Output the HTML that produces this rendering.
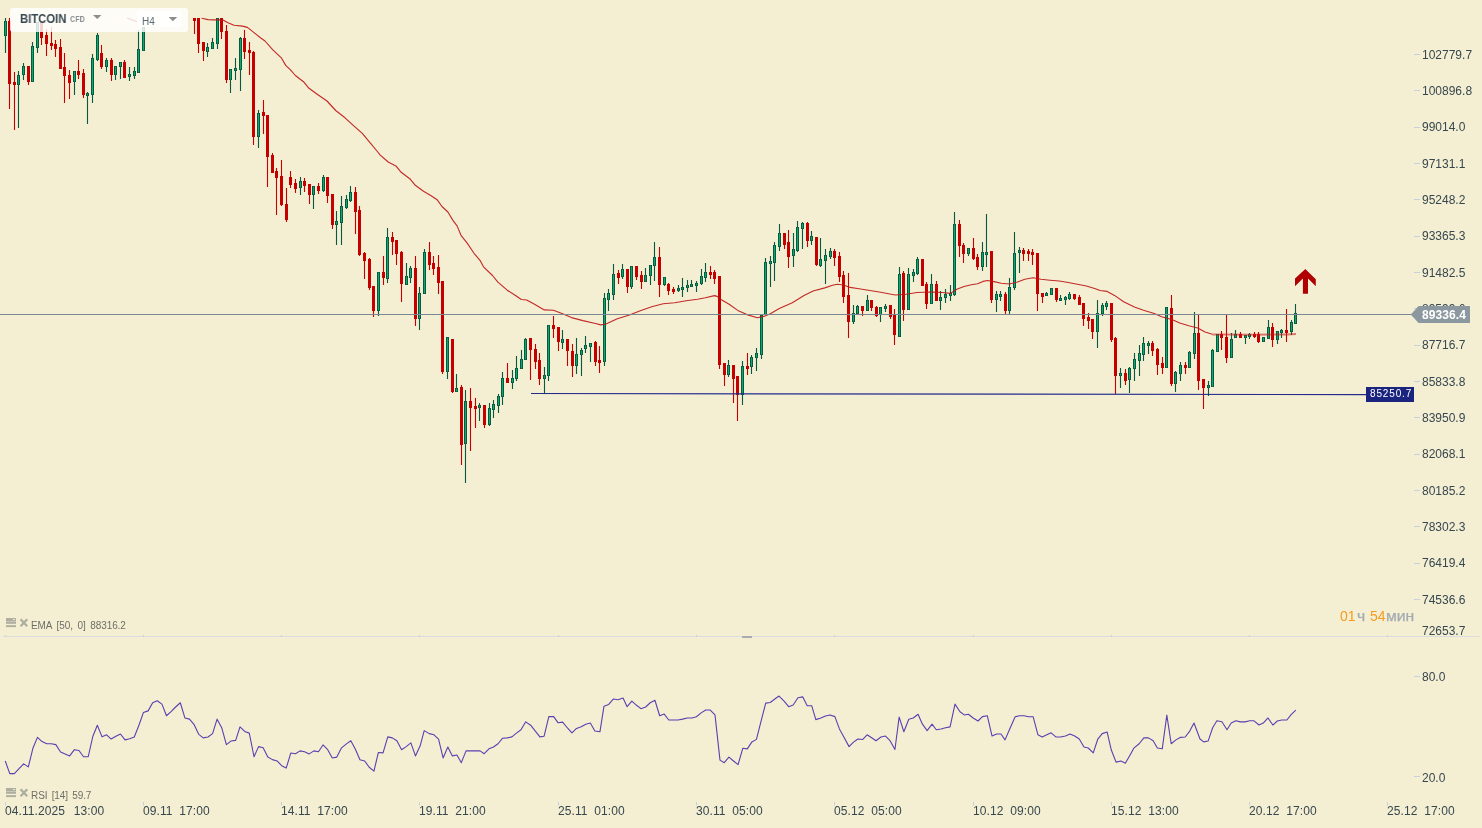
<!DOCTYPE html>
<html><head><meta charset="utf-8"><title>BITCOIN H4</title>
<style>
html,body{margin:0;padding:0;}
body{width:1482px;height:828px;overflow:hidden;background:#f4efd3;font-family:"Liberation Sans",sans-serif;position:relative;}
svg{position:absolute;left:0;top:0;}
.t{position:absolute;white-space:pre;line-height:1;will-change:transform;}
.ax{font-size:12px;color:#37474f;left:1422px;}
.tm{font-size:12px;color:#37474f;top:805px;letter-spacing:0.08px;}
.lg{font-size:10px;color:#6e6e66;left:30.6px;word-spacing:1.9px;letter-spacing:-0.08px;}
</style></head><body>

<svg width="1482" height="828" viewBox="0 0 1482 828">
<path d="M9.5 18V109M14.5 72V130M28.5 66V85M41.5 22V45M46.5 29V56M51.5 27V50M55.5 40V57M60.5 39V69M64.5 53V103M69.5 70V99M78.5 60V79M83.5 69V98M101.5 45V69M111.5 58V81M124.5 60V78M194.5 18V34M198.5 18V53M203.5 42V61M221.5 18V39M226.5 25V83M244.5 30V59M249.5 42V75M253.5 51V145M263.5 100V134M267.5 115V187M272.5 153V173M276.5 168V215M281.5 160V206M286.5 188V222M290.5 171V188M295.5 179V193M304.5 178V192M309.5 184V204M318.5 183V194M327.5 177V203M332.5 194V229M355.5 187V234M359.5 206V256M364.5 252V279M369.5 258V290M373.5 286V317M383.5 256V285M392.5 232V255M396.5 240V265M401.5 251V302M415.5 256V326M429.5 242V270M433.5 256V275M438.5 255V294M442.5 281V374M452.5 339V393M461.5 385V465M470.5 388V451M475.5 398V428M484.5 405V428M507.5 363V383M530.5 338V380M535.5 344V369M539.5 353V385M553.5 316V338M558.5 327V351M567.5 339V366M572.5 344V377M595.5 341V366M599.5 346V373M618.5 270V284M627.5 269V293M636.5 266V280M641.5 271V289M659.5 247V297M668.5 283V295M673.5 287V294M710.5 266V279M714.5 270V284M719.5 276V369M724.5 363V386M733.5 365V403M737.5 376V421M747.5 353V375M784.5 233V249M788.5 230V268M807.5 222V247M816.5 237V266M834.5 249V266M839.5 252V282M843.5 271V303M848.5 273V338M862.5 306V316M871.5 300V311M876.5 306V317M890.5 305V319M894.5 309V345M903.5 271V321M922.5 259V286M926.5 282V309M936.5 281V301M959.5 220V257M963.5 243V263M973.5 238V260M977.5 254V270M991.5 251V303M1005.5 292V314M1023.5 248V261M1028.5 249V261M1032.5 249V265M1037.5 253V311M1042.5 293V303M1056.5 288V302M1074.5 294V300M1079.5 295V305M1083.5 303V326M1088.5 313V329M1092.5 319V339M1111.5 303V342M1115.5 337V394M1125.5 369V385M1152.5 341V356M1157.5 348V375M1162.5 357V374M1171.5 295V386M1185.5 362V374M1198.5 315V390M1203.5 379V409M1221.5 331V350M1226.5 315V363M1240.5 332V338M1254.5 332V338M1258.5 332V343M1272.5 323V347M1286.5 309V342" stroke="#c60000" stroke-width="1.1" fill="none"/>
<path d="M8 21h3V84h-3zM13 82h3V85h-3zM27 66h3V82h-3zM40 22h3V38h-3zM45 35h3V44h-3zM50 43h3V46h-3zM54 44h3V49h-3zM59 47h3V69h-3zM63 67h3V76h-3zM68 75h3V83h-3zM77 71h3V75h-3zM82 73h3V95h-3zM100 53h3V67h-3zM110 60h3V75h-3zM123 62h3V78h-3zM193 18h3V21h-3zM197 18h3V44h-3zM202 42h3V51h-3zM220 18h3V32h-3zM225 31h3V80h-3zM243 38h3V52h-3zM248 50h3V53h-3zM252 52h3V137h-3zM262 112h3V116h-3zM266 115h3V157h-3zM271 155h3V173h-3zM275 171h3V178h-3zM280 176h3V205h-3zM285 204h3V220h-3zM289 177h3V185h-3zM294 183h3V189h-3zM303 181h3V186h-3zM308 184h3V195h-3zM317 186h3V191h-3zM326 177h3V196h-3zM331 194h3V225h-3zM354 192h3V212h-3zM358 210h3V255h-3zM363 253h3V261h-3zM368 259h3V288h-3zM372 286h3V311h-3zM382 272h3V278h-3zM391 237h3V242h-3zM395 240h3V254h-3zM400 252h3V284h-3zM414 268h3V319h-3zM428 252h3V265h-3zM432 263h3V269h-3zM437 267h3V283h-3zM441 281h3V372h-3zM451 339h3V392h-3zM460 387h3V445h-3zM469 401h3V408h-3zM474 406h3V409h-3zM483 405h3V425h-3zM506 378h3V383h-3zM529 338h3V350h-3zM534 349h3V362h-3zM538 360h3V379h-3zM552 325h3V329h-3zM557 327h3V342h-3zM566 339h3V351h-3zM571 351h3V366h-3zM594 342h3V362h-3zM598 360h3V363h-3zM617 273h3V278h-3zM626 269h3V287h-3zM635 266h3V277h-3zM640 275h3V282h-3zM658 257h3V285h-3zM667 284h3V291h-3zM672 289h3V292h-3zM709 272h3V275h-3zM713 272h3V279h-3zM718 276h3V365h-3zM723 363h3V375h-3zM732 365h3V379h-3zM736 376h3V395h-3zM746 366h3V369h-3zM783 233h3V245h-3zM787 242h3V257h-3zM806 223h3V241h-3zM815 237h3V265h-3zM833 251h3V258h-3zM838 256h3V277h-3zM842 275h3V297h-3zM847 295h3V322h-3zM861 306h3V311h-3zM870 300h3V308h-3zM875 307h3V316h-3zM889 305h3V317h-3zM893 314h3V335h-3zM902 273h3V310h-3zM921 259h3V286h-3zM925 284h3V304h-3zM935 284h3V301h-3zM958 224h3V246h-3zM962 245h3V254h-3zM972 248h3V259h-3zM976 257h3V267h-3zM990 251h3V300h-3zM1004 294h3V311h-3zM1022 250h3V254h-3zM1027 251h3V254h-3zM1031 252h3V255h-3zM1036 253h3V294h-3zM1041 293h3V297h-3zM1055 288h3V300h-3zM1073 294h3V299h-3zM1078 297h3V305h-3zM1082 303h3V319h-3zM1087 317h3V321h-3zM1091 319h3V332h-3zM1110 303h3V340h-3zM1114 338h3V376h-3zM1124 373h3V381h-3zM1151 343h3V351h-3zM1156 349h3V365h-3zM1161 363h3V368h-3zM1170 308h3V384h-3zM1184 365h3V368h-3zM1197 333h3V381h-3zM1202 379h3V388h-3zM1220 334h3V338h-3zM1225 337h3V358h-3zM1239 334h3V338h-3zM1253 334h3V337h-3zM1257 334h3V342h-3zM1271 327h3V340h-3zM1285 330h3V333h-3z" fill="#c60000"/>
<path d="M5.5 18V53M18.5 71V128M23.5 63V80M32.5 42V82M37.5 22V53M74.5 71V95M87.5 92V124M92.5 54V103M97.5 33V61M106.5 58V72M115.5 66V80M120.5 62V79M129.5 67V81M134.5 67V79M138.5 30V73M143.5 18V51M207.5 43V57M212.5 38V49M217.5 18V49M230.5 69V93M235.5 58V80M240.5 37V91M258.5 110V148M300.5 177V195M313.5 186V209M323.5 175V192M336.5 211V245M341.5 196V245M346.5 195V209M350.5 186V202M378.5 272V316M387.5 228V283M406.5 263V285M410.5 266V283M419.5 287V330M424.5 249V294M447.5 337V379M456.5 374V392M465.5 390V483M479.5 403V421M489.5 403V426M493.5 400V418M498.5 394V413M502.5 372V405M512.5 370V389M516.5 356V381M521.5 350V369M525.5 338V360M544.5 367V393M548.5 325V381M562.5 330V349M576.5 338V374M581.5 348V376M585.5 336V353M590.5 343V362M604.5 293V366M608.5 289V311M613.5 264V300M622.5 264V279M631.5 266V289M645.5 268V282M650.5 265V285M654.5 242V281M664.5 277V286M678.5 285V292M682.5 278V297M687.5 280V292M691.5 280V287M696.5 281V292M701.5 269V285M705.5 263V282M728.5 360V377M742.5 361V405M751.5 355V374M756.5 348V371M761.5 314V359M765.5 258V315M770.5 256V287M774.5 242V281M779.5 224V251M793.5 233V267M797.5 221V252M802.5 222V249M811.5 231V245M820.5 238V267M825.5 249V284M830.5 248V259M853.5 305V324M857.5 305V314M867.5 295V311M880.5 307V322M885.5 304V312M899.5 267V337M908.5 268V310M913.5 269V282M917.5 257V275M931.5 274V304M940.5 291V310M945.5 289V303M950.5 285V301M954.5 212V296M968.5 248V256M982.5 242V271M986.5 214V267M996.5 291V312M1000.5 291V301M1009.5 278V314M1014.5 232V290M1019.5 247V273M1046.5 292V296M1051.5 288V295M1060.5 295V301M1065.5 296V305M1069.5 292V300M1097.5 300V348M1102.5 303V316M1106.5 301V310M1120.5 368V388M1129.5 367V393M1134.5 353V381M1139.5 345V376M1143.5 337V361M1148.5 341V354M1166.5 307V368M1175.5 371V392M1180.5 362V381M1189.5 351V368M1194.5 312V359M1208.5 381V396M1212.5 349V387M1217.5 334V352M1231.5 333V358M1235.5 330V338M1245.5 335V344M1249.5 333V339M1263.5 337V342M1268.5 320V339M1277.5 331V344M1281.5 329V338M1291.5 320V335M1295.5 304V324" stroke="#075a40" stroke-width="1.1" fill="none"/>
<path d="M4 21h3V36h-3zM17 75h3V85h-3zM22 66h3V75h-3zM31 46h3V82h-3zM36 22h3V48h-3zM73 71h3V82h-3zM86 93h3V96h-3zM91 58h3V95h-3zM96 35h3V60h-3zM105 60h3V67h-3zM114 66h3V75h-3zM119 62h3V67h-3zM128 74h3V77h-3zM133 71h3V76h-3zM137 49h3V73h-3zM142 18h3V51h-3zM206 47h3V52h-3zM211 42h3V49h-3zM216 18h3V44h-3zM229 69h3V80h-3zM234 68h3V71h-3zM239 38h3V70h-3zM257 113h3V137h-3zM299 181h3V188h-3zM312 186h3V195h-3zM322 177h3V191h-3zM335 221h3V225h-3zM340 206h3V223h-3zM345 199h3V208h-3zM349 192h3V201h-3zM377 272h3V311h-3zM386 237h3V279h-3zM405 276h3V285h-3zM409 268h3V278h-3zM418 293h3V319h-3zM423 252h3V294h-3zM446 337h3V372h-3zM455 388h3V392h-3zM464 401h3V444h-3zM478 405h3V408h-3zM488 408h3V425h-3zM492 404h3V410h-3zM497 396h3V406h-3zM501 378h3V397h-3zM511 378h3V383h-3zM515 368h3V379h-3zM520 359h3V369h-3zM524 339h3V360h-3zM543 375h3V379h-3zM547 325h3V376h-3zM561 339h3V343h-3zM575 354h3V366h-3zM580 350h3V355h-3zM584 345h3V349h-3zM589 343h3V347h-3zM603 298h3V362h-3zM607 293h3V300h-3zM612 274h3V295h-3zM621 269h3V277h-3zM630 266h3V287h-3zM644 275h3V282h-3zM649 265h3V276h-3zM653 257h3V266h-3zM663 277h3V285h-3zM677 288h3V291h-3zM681 287h3V290h-3zM686 285h3V288h-3zM690 284h3V287h-3zM695 283h3V286h-3zM700 276h3V284h-3zM704 272h3V278h-3zM727 365h3V375h-3zM741 366h3V395h-3zM750 357h3V367h-3zM755 353h3V358h-3zM760 315h3V355h-3zM764 262h3V315h-3zM769 261h3V264h-3zM773 245h3V263h-3zM778 233h3V247h-3zM792 249h3V256h-3zM796 227h3V251h-3zM801 223h3V229h-3zM810 236h3V241h-3zM819 259h3V266h-3zM824 255h3V261h-3zM829 251h3V257h-3zM852 313h3V322h-3zM856 306h3V314h-3zM866 300h3V311h-3zM879 307h3V315h-3zM884 306h3V309h-3zM898 274h3V337h-3zM907 274h3V310h-3zM912 272h3V276h-3zM916 259h3V274h-3zM930 284h3V304h-3zM939 297h3V301h-3zM944 294h3V298h-3zM949 293h3V296h-3zM953 224h3V295h-3zM967 248h3V254h-3zM981 252h3V267h-3zM985 252h3V255h-3zM995 294h3V300h-3zM999 294h3V297h-3zM1008 287h3V311h-3zM1013 253h3V288h-3zM1018 250h3V253h-3zM1045 293h3V296h-3zM1050 288h3V295h-3zM1059 298h3V301h-3zM1064 297h3V300h-3zM1068 294h3V299h-3zM1096 313h3V332h-3zM1101 305h3V314h-3zM1105 303h3V307h-3zM1119 373h3V376h-3zM1128 368h3V380h-3zM1133 359h3V369h-3zM1138 353h3V361h-3zM1142 343h3V355h-3zM1147 343h3V346h-3zM1165 307h3V368h-3zM1174 372h3V384h-3zM1179 365h3V374h-3zM1188 352h3V368h-3zM1193 333h3V354h-3zM1207 385h3V388h-3zM1211 350h3V387h-3zM1216 334h3V352h-3zM1230 339h3V358h-3zM1234 334h3V338h-3zM1244 335h3V338h-3zM1248 334h3V337h-3zM1262 337h3V342h-3zM1267 327h3V339h-3zM1276 331h3V340h-3zM1280 330h3V333h-3zM1290 322h3V332h-3zM1294 313h3V324h-3z" fill="#075a40"/>
<path d="M5 21.8h1V35.2h-1zM18 75.8h1V84.2h-1zM23 66.8h1V74.2h-1zM32 46.8h1V81.2h-1zM37 22.8h1V47.2h-1zM74 71.8h1V81.2h-1zM87 93.8h1V95.2h-1zM92 58.8h1V94.2h-1zM97 35.8h1V59.2h-1zM106 60.8h1V66.2h-1zM115 66.8h1V74.2h-1zM120 62.8h1V66.2h-1zM129 74.8h1V76.2h-1zM134 71.8h1V75.2h-1zM138 49.8h1V72.2h-1zM143 18.8h1V50.2h-1zM207 47.8h1V51.2h-1zM212 42.8h1V48.2h-1zM217 18.8h1V43.2h-1zM230 69.8h1V79.2h-1zM235 68.8h1V70.2h-1zM240 38.8h1V69.2h-1zM258 113.8h1V136.2h-1zM300 181.8h1V187.2h-1zM313 186.8h1V194.2h-1zM323 177.8h1V190.2h-1zM336 221.8h1V224.2h-1zM341 206.8h1V222.2h-1zM346 199.8h1V207.2h-1zM350 192.8h1V200.2h-1zM378 272.8h1V310.2h-1zM387 237.8h1V278.2h-1zM406 276.8h1V284.2h-1zM410 268.8h1V277.2h-1zM419 293.8h1V318.2h-1zM424 252.8h1V293.2h-1zM447 337.8h1V371.2h-1zM456 388.8h1V391.2h-1zM465 401.8h1V443.2h-1zM479 405.8h1V407.2h-1zM489 408.8h1V424.2h-1zM493 404.8h1V409.2h-1zM498 396.8h1V405.2h-1zM502 378.8h1V396.2h-1zM512 378.8h1V382.2h-1zM516 368.8h1V378.2h-1zM521 359.8h1V368.2h-1zM525 339.8h1V359.2h-1zM544 375.8h1V378.2h-1zM548 325.8h1V375.2h-1zM562 339.8h1V342.2h-1zM576 354.8h1V365.2h-1zM581 350.8h1V354.2h-1zM585 345.8h1V348.2h-1zM590 343.8h1V346.2h-1zM604 298.8h1V361.2h-1zM608 293.8h1V299.2h-1zM613 274.8h1V294.2h-1zM622 269.8h1V276.2h-1zM631 266.8h1V286.2h-1zM645 275.8h1V281.2h-1zM650 265.8h1V275.2h-1zM654 257.8h1V265.2h-1zM664 277.8h1V284.2h-1zM678 288.8h1V290.2h-1zM682 287.8h1V289.2h-1zM687 285.8h1V287.2h-1zM691 284.8h1V286.2h-1zM696 283.8h1V285.2h-1zM701 276.8h1V283.2h-1zM705 272.8h1V277.2h-1zM728 365.8h1V374.2h-1zM742 366.8h1V394.2h-1zM751 357.8h1V366.2h-1zM756 353.8h1V357.2h-1zM761 315.8h1V354.2h-1zM765 262.8h1V314.2h-1zM770 261.8h1V263.2h-1zM774 245.8h1V262.2h-1zM779 233.8h1V246.2h-1zM793 249.8h1V255.2h-1zM797 227.8h1V250.2h-1zM802 223.8h1V228.2h-1zM811 236.8h1V240.2h-1zM820 259.8h1V265.2h-1zM825 255.8h1V260.2h-1zM830 251.8h1V256.2h-1zM853 313.8h1V321.2h-1zM857 306.8h1V313.2h-1zM867 300.8h1V310.2h-1zM880 307.8h1V314.2h-1zM885 306.8h1V308.2h-1zM899 274.8h1V336.2h-1zM908 274.8h1V309.2h-1zM913 272.8h1V275.2h-1zM917 259.8h1V273.2h-1zM931 284.8h1V303.2h-1zM940 297.8h1V300.2h-1zM945 294.8h1V297.2h-1zM950 293.8h1V295.2h-1zM954 224.8h1V294.2h-1zM968 248.8h1V253.2h-1zM982 252.8h1V266.2h-1zM986 252.8h1V254.2h-1zM996 294.8h1V299.2h-1zM1000 294.8h1V296.2h-1zM1009 287.8h1V310.2h-1zM1014 253.8h1V287.2h-1zM1019 250.8h1V252.2h-1zM1046 293.8h1V295.2h-1zM1051 288.8h1V294.2h-1zM1060 298.8h1V300.2h-1zM1065 297.8h1V299.2h-1zM1069 294.8h1V298.2h-1zM1097 313.8h1V331.2h-1zM1102 305.8h1V313.2h-1zM1106 303.8h1V306.2h-1zM1120 373.8h1V375.2h-1zM1129 368.8h1V379.2h-1zM1134 359.8h1V368.2h-1zM1139 353.8h1V360.2h-1zM1143 343.8h1V354.2h-1zM1148 343.8h1V345.2h-1zM1166 307.8h1V367.2h-1zM1175 372.8h1V383.2h-1zM1180 365.8h1V373.2h-1zM1189 352.8h1V367.2h-1zM1194 333.8h1V353.2h-1zM1208 385.8h1V387.2h-1zM1212 350.8h1V386.2h-1zM1217 334.8h1V351.2h-1zM1231 339.8h1V357.2h-1zM1235 334.8h1V337.2h-1zM1245 335.8h1V337.2h-1zM1249 334.8h1V336.2h-1zM1263 337.8h1V341.2h-1zM1268 327.8h1V338.2h-1zM1277 331.8h1V339.2h-1zM1281 330.8h1V332.2h-1zM1291 322.8h1V331.2h-1zM1295 313.8h1V323.2h-1z" fill="#08aa72"/>
<path d="M127 18 L132 19.8 L137 21.8M201.7 18.3 L208 19.6 L213 19.9 L223 19.9 L228 22.8 L234 25.3 L242.5 26.1 L247.4 27.4 L254 32.6 L260.4 37.8 L265 41 L272.6 49.7 L281.3 57.8 L285.7 65.4 L290.5 69.8 L295.4 75.5 L304.1 82.3 L309 88.3 L317.2 94.2 L327 101 L335.7 110.5 L345 117.8 L354.1 126.1 L362.3 133.4 L370.4 143.2 L378.6 153 L380 154.9 L388.2 162 L396.3 166.3 L401.2 172.3 L410.4 179.3 L415.3 185.3 L423.5 191.3 L431.1 195.7 L437.1 199.7 L442 206.5 L447.9 212 L452.8 220.1 L457.2 226.1 L461 235.3 L467 242.9 L474 253.3 L480 260.3 L483.5 266.8 L492.5 275.5 L497.9 282.1 L507.2 290.2 L515.9 295.7 L521.3 299.5 L526.7 300 L535 304.6 L544.3 309.9 L553.4 310.3 L562.6 313.8 L571.5 317.6 L582.9 320.6 L594.4 323.3 L600.8 324.9 L605.9 324 L617.3 318.7 L628.8 315.3 L640.3 310.7 L651.7 306.8 L663.2 303.8 L674.7 302.7 L686.1 300.8 L697.6 299.2 L705.4 297.7 L714.5 295.6 L717 296.4 L721 299.5 L728.7 304 L737.8 310.4 L746.9 314.6 L757.3 317.7 L763.8 316.4 L770.3 313.8 L779.3 308.6 L792.3 302.7 L804 295.6 L813.1 291 L824.8 287.9 L832.6 285.3 L837.2 284.3 L843.6 285 L850 287.4 L859 288.7 L869.9 290.5 L880.7 292.3 L889.8 294 L895.2 295 L906 294.3 L917 292.5 L931.4 292 L942.3 292.5 L950.5 293.4 L956.8 289.2 L964 286.5 L971.3 284.7 L977.7 283.8 L983 281.4 L987.6 280.5 L994 281.6 L1001.2 283.3 L1009.4 284 L1017.5 282 L1024.8 279.3 L1033 277.8 L1041 279.3 L1050 280.2 L1059.2 281 L1068.3 282.5 L1077.3 284.2 L1086.4 286 L1095.4 288.7 L1100 290.5 L1107.2 291.4 L1114.5 295.4 L1123.6 301.7 L1134.4 307 L1143.5 310.2 L1154.3 313.5 L1161.6 316.7 L1172.5 319.8 L1179.7 323 L1188.8 325.8 L1197.8 328 L1205 332 L1212.3 334.3" stroke="rgba(188,20,20,0.9)" stroke-width="1.12" fill="none" stroke-linejoin="round"/>
<path d="M1212.3 334.4 L1226.8 334.6 L1250 334.7 L1275 334.6 L1287 334.5 L1296 333.9" stroke="rgba(196,24,24,0.55)" stroke-width="2" fill="none" stroke-linejoin="round"/>
<path d="M0 314.5H1412" stroke="#7b8791" stroke-width="1.1"/>
<path d="M531 393.5L1367 394.6" stroke="#232a8c" stroke-width="1.15"/>
<path d="M1305.3 268.9L1315.8 279.3V286.3L1308 278.6V293.8H1302.9V278.4L1295 286.3V278.6Z" fill="#b00000" stroke="#f9f9e6" stroke-width="0.8" paint-order="stroke"/>
<path d="M5.23 760.97 L9.78 773.62 L14.34 773.62 L19.06 768.56 L23.62 763.84 L28.34 766.88 L32.89 748.32 L37.45 737.35 L42 741.57 L46.73 743.77 L51.28 743.77 L55.84 744.61 L60.56 752.03 L65.11 753.89 L69.67 755.91 L74.39 749.67 L78.95 750.51 L83.5 756.75 L88.23 756.75 L92.78 736.51 L97.33 725.21 L102.06 736.85 L106.61 734.82 L111.17 739.04 L115.89 736.17 L120.45 733.98 L125 739.89 L129.72 738.7 L134.28 737.02 L138.83 725.55 L143.39 712.56 L148.11 710.87 L152.67 702.77 L157.22 700.75 L161.94 704.12 L166.5 715.76 L171.05 711.55 L175.61 706.99 L180.33 702.77 L184.89 717.96 L189.44 719.14 L194.16 724.7 L198.72 734.32 L203.27 737.86 L208 737.02 L212.55 733.64 L217.11 719.14 L221.83 728.08 L226.38 744.61 L230.94 741.07 L235.66 740.39 L240 726.9 L244.72 731.45 L249.28 733.14 L254 756.75 L258.56 746.63 L263.11 747.81 L267.83 757.09 L272.39 759.62 L277.11 760.97 L281.67 765.7 L286.22 768.06 L290.78 753.04 L295.5 753.72 L300.05 750.85 L304.61 751.69 L309.16 753.89 L313.89 750.85 L318.44 751.69 L323 744.95 L327.72 749.67 L332.27 757.94 L336.83 757.09 L341.55 747.81 L346.11 744.1 L350.83 740.73 L355.38 749.16 L359.94 759.79 L364.66 760.97 L369.22 767.21 L373.94 771.09 L378.33 752.54 L383.05 752.87 L387.77 736.85 L392.33 737.86 L396.88 740.73 L401.61 749.67 L406.16 746.63 L410.88 742.92 L415.44 755.91 L420.16 745.79 L424.21 730.61 L429.27 733.64 L433.99 734.82 L438.55 739.04 L443.1 757.94 L447.83 746.97 L452.38 755.91 L456.94 755.07 L461.32 762.66 L466.05 750.85 L470.77 750.85 L475.32 750.85 L480 750.85 L484.22 753.72 L488.94 748.83 L493.5 746.97 L498.05 743.77 L502.6 738.2 L507.33 737.86 L511.88 736.85 L516.44 733.14 L520.99 729.76 L525.72 721.84 L530.61 725.21 L535.33 731.11 L539.89 736.85 L544.1 736.17 L548.83 716.61 L553.72 716.61 L557.94 722.68 L562.66 722.17 L567.21 727.74 L571.94 732.8 L576.49 728.41 L581.21 726.73 L585.77 724.2 L590.32 723.02 L594.88 730.94 L599.94 731.79 L603.99 706.15 L608.71 704.46 L613.27 699.06 L617.99 699.74 L623.05 698.05 L627.1 706.65 L631.82 701.09 L636.55 705.3 L640.93 708.68 L645.65 706.99 L650.21 702.77 L654.93 700.24 L659.66 715.76 L664.21 714.08 L668.77 719.98 L673.49 719.98 L678.04 719.98 L682.6 719.14 L687.32 717.96 L691.88 717.96 L696.43 716.77 L701.15 712.89 L705.71 710.03 L710.26 710.03 L714.99 714.92 L720 760.13 L724.22 762.66 L728.94 757.09 L733.5 760.97 L738.05 764.68 L742.77 748.32 L747.33 748.83 L751.88 741.91 L756.44 739.38 L760.99 721.33 L765.72 703.11 L770.27 702.44 L774.82 699.06 L779.04 696.03 L784.1 701.09 L788.66 706.65 L793.21 704.97 L797.94 697.71 L802.66 696.87 L807.21 705.81 L811.77 705.81 L815.82 719.64 L820.88 717.96 L825.43 715.93 L829.99 714.92 L834.88 716.61 L839.43 728.92 L843.99 737.35 L849.05 746.63 L853.27 742.42 L857.82 739.04 L862.54 739.55 L867.1 734.82 L871.65 737.69 L876.04 740.73 L880.93 737.02 L885.49 736.01 L890.04 740.73 L894.93 749.5 L899.15 717.11 L903.87 731.79 L908.77 719.3 L913.32 717.96 L918.04 714.24 L922.43 724.2 L927.15 730.61 L932.04 724.2 L936.26 729.76 L940.99 728.92 L945.54 727.74 L950.09 726.9 L954.99 704.12 L960 711.71 L964.22 714.92 L968.43 714.24 L973.16 717.96 L978.05 720.99 L982.44 716.61 L987.33 715.76 L992.05 736.01 L996.61 733.98 L1000.99 733.98 L1005.04 739.89 L1010.27 727.74 L1015.16 716.77 L1019.38 715.76 L1024.1 715.76 L1028.66 716.77 L1033.21 716.77 L1037.94 734.82 L1042.15 737.02 L1046.88 734.82 L1051.09 732.8 L1055.82 736.85 L1060.71 737.02 L1065.43 736.01 L1069.99 733.98 L1074.71 736.01 L1079.26 739.04 L1083.99 746.97 L1088.21 747.98 L1093.27 752.87 L1097.82 739.04 L1102.21 733.64 L1107.1 731.96 L1111.32 750.01 L1116.04 762.15 L1120.93 760.97 L1125.32 763.16 L1129.53 755.91 L1134.09 747.81 L1139.15 743.77 L1143.87 737.86 L1148.43 737.86 L1153.15 740.73 L1157.37 747.98 L1162.26 748.83 L1166.82 715.09 L1171.2 743.77 L1175.92 739.89 L1180.65 737.35 L1185.2 737.02 L1189.76 731.11 L1193.97 723.02 L1200 739.04 L1203.71 741.91 L1208.1 741.07 L1212.65 727.74 L1216.87 720.82 L1221.93 721.67 L1226.99 729.76 L1231.21 723.02 L1235.76 720.82 L1240.49 721.84 L1245.04 721.84 L1249.76 720.82 L1253.98 720.82 L1259.04 725.04 L1263.26 723.02 L1267.98 717.96 L1272.87 725.04 L1277.26 720.99 L1281.82 719.98 L1286.88 719.98 L1291.09 714.58 L1295.82 710.03" stroke="#5a3fb0" stroke-width="1.1" fill="none" stroke-linejoin="round"/>
<path d="M3 636.5H1480" stroke="#dadcde" stroke-width="1.1"/>
<rect x="742" y="636" width="10" height="2" fill="#aaaab0"/>
<path d="M1414 54.5h6M1414 90.5h6M1414 127.5h6M1414 163.5h6M1414 199.5h6M1414 236.5h6M1414 272.5h6M1414 308.5h6M1414 345.5h6M1414 381.5h6M1414 417.5h6M1414 454.5h6M1414 490.5h6M1414 526.5h6M1414 563.5h6M1414 599.5h6M1414 676.5h6M1414 776.5h6" stroke="#c5d2dc" stroke-width="1"/>
<path d="M5.5 802v3.5M5.5 635v1.5M143.5 802v3.5M143.5 635v1.5M281.5 802v3.5M281.5 635v1.5M419.5 802v3.5M419.5 635v1.5M558.5 802v3.5M558.5 635v1.5M696.5 802v3.5M696.5 635v1.5M834.5 802v3.5M834.5 635v1.5M973.5 802v3.5M973.5 635v1.5M1111.5 802v3.5M1111.5 635v1.5M1249.5 802v3.5M1249.5 635v1.5M1387.5 802v3.5M1387.5 635v1.5" stroke="#c5cfe0" stroke-width="1"/>
</svg>
<div class="t ax" style="top:49px">102779.7</div>
<div class="t ax" style="top:85px">100896.8</div>
<div class="t ax" style="top:121px">99014.0</div>
<div class="t ax" style="top:158px">97131.1</div>
<div class="t ax" style="top:194px">95248.2</div>
<div class="t ax" style="top:230px">93365.3</div>
<div class="t ax" style="top:267px">91482.5</div>
<div class="t ax" style="top:303px">89599.6</div>
<div class="t ax" style="top:339px">87716.7</div>
<div class="t ax" style="top:376px">85833.8</div>
<div class="t ax" style="top:412px">83950.9</div>
<div class="t ax" style="top:448px">82068.1</div>
<div class="t ax" style="top:485px">80185.2</div>
<div class="t ax" style="top:521px">78302.3</div>
<div class="t ax" style="top:557px">76419.4</div>
<div class="t ax" style="top:594px">74536.6</div>
<div class="t ax" style="top:625px">72653.7</div>
<div class="t ax" style="top:671px">80.0</div>
<div class="t ax" style="top:771.5px">20.0</div>
<div class="t tm" style="left:5.3px;word-spacing:-0.45px">04.11.2025   13:00</div>
<div class="t tm" style="left:143.3px">09.11  17:00</div>
<div class="t tm" style="left:281.3px">14.11  17:00</div>
<div class="t tm" style="left:419.3px">19.11  21:00</div>
<div class="t tm" style="left:558.3px">25.11  01:00</div>
<div class="t tm" style="left:696.3px">30.11  05:00</div>
<div class="t tm" style="left:834.3px">05.12  05:00</div>
<div class="t tm" style="left:973.3px">10.12  09:00</div>
<div class="t tm" style="left:1111.3px">15.12  13:00</div>
<div class="t tm" style="left:1249.3px">20.12  17:00</div>
<div class="t tm" style="left:1387.3px">25.12  17:00</div>
<svg width="1482" height="828" style="pointer-events:none"><path d="M1410.8 314.5L1418.5 306H1470V323H1418.5Z" fill="#8c989f"/><rect x="1366" y="387" width="48" height="15" fill="#1a237e"/></svg>
<div class="t" style="left:1422px;top:308.5px;font-size:12px;font-weight:bold;color:#fff;letter-spacing:0.1px">89336.4</div>
<div class="t" style="left:1369.6px;top:388.7px;font-size:10px;color:#fff;letter-spacing:0.86px">85250.7</div>
<div class="t" id="t1" style="left:1340.2px;top:609px;font-size:14px;color:#f59b22">01</div>
<div class="t" id="t2" style="left:1357.3px;top:609px;font-size:14.3px;color:#a6abb0;transform-origin:0 0;transform:scaleX(1.1);-webkit-text-stroke:0.25px #a6abb0">ч</div>
<div class="t" id="t3" style="left:1369.5px;top:609px;font-size:14px;color:#f59b22">54</div>
<div class="t" id="t4" style="left:1386.1px;top:609px;font-size:14.3px;color:#a6abb0;transform-origin:0 0;transform:scaleX(1.1);-webkit-text-stroke:0.25px #a6abb0">мин</div>
<svg width="24" height="10" viewBox="0 0 24 10" style="position:absolute;left:6px;top:618px"><g fill="#aeae9f"><rect x="0" y="0" width="10" height="3"/><rect x="0" y="3.4" width="10" height="2.4"/><rect x="0" y="7.2" width="10" height="1.9"/></g><rect x="7" y="1" width="2.2" height="0.9" fill="#f4efd3"/><path d="M14.6 1.2L21.2 8.2M21.2 1.2L14.6 8.2" stroke="#aeae9f" stroke-width="2.3"/></svg>
<div class="t lg" style="top:620.5px">EMA [50, 0] 88316.2</div>
<svg width="24" height="10" viewBox="0 0 24 10" style="position:absolute;left:6px;top:788px"><g fill="#aeae9f"><rect x="0" y="0" width="10" height="3"/><rect x="0" y="3.4" width="10" height="2.4"/><rect x="0" y="7.2" width="10" height="1.9"/></g><rect x="7" y="1" width="2.2" height="0.9" fill="#f4efd3"/><path d="M14.6 1.2L21.2 8.2M21.2 1.2L14.6 8.2" stroke="#aeae9f" stroke-width="2.3"/></svg>
<div class="t lg" style="top:791px;word-spacing:1.5px">RSI [14] 59.7</div>
<div style="position:absolute;left:10px;top:8px;width:178px;height:24px;background:rgba(255,255,255,0.82);border-radius:3px"></div>
<div style="position:absolute;left:137px;top:11px;width:44px;height:16px;background:rgba(255,255,255,0.85);border-radius:2px"></div>
<div class="t" style="left:20px;top:12.5px;font-size:12px;font-weight:bold;color:#37474f;transform-origin:0 0;transform:scaleX(0.94)">BITCOIN</div>
<div class="t" style="left:70.2px;top:15.2px;font-size:8.6px;font-weight:bold;color:#8a8f92;transform-origin:0 0;transform:scaleX(0.84)">CFD</div>
<div class="t" style="left:142.3px;top:16.8px;font-size:10px;color:#5f6b73">H4</div>
<svg width="200" height="40" style="pointer-events:none"><path d="M93 15h8.4l-4.2 4z" fill="#8d8d8d"/><path d="M168.6 17.1h8.6l-4.3 4.2z" fill="#8d8d8d"/></svg>

</body></html>
